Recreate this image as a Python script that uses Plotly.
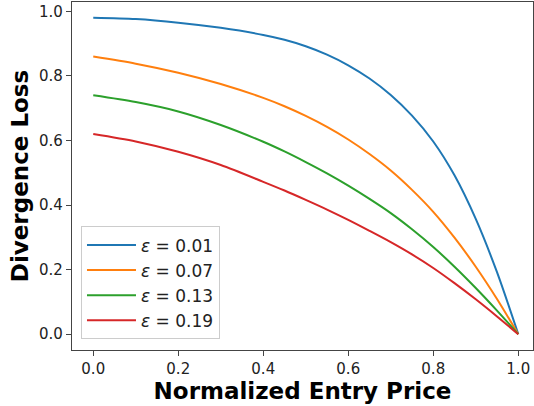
import plotly.graph_objects as go

x_vals = [0.0, 0.1, 0.2, 0.3, 0.4, 0.45, 0.5, 0.55, 0.6, 0.65, 0.7, 0.75, 0.8, 0.85, 0.9, 0.95, 1.0]

loss_eps_001 = [0.98, 0.976, 0.965, 0.949, 0.927, 0.912, 0.892, 0.866, 0.833, 0.792, 0.741, 0.677, 0.597, 0.492, 0.357, 0.192, 0.0]
loss_eps_007 = [0.86, 0.838, 0.810, 0.775, 0.732, 0.706, 0.676, 0.642, 0.603, 0.558, 0.507, 0.447, 0.379, 0.299, 0.209, 0.109, 0.0]
loss_eps_013 = [0.74, 0.719, 0.690, 0.648, 0.596, 0.566, 0.533, 0.498, 0.460, 0.419, 0.375, 0.325, 0.270, 0.209, 0.143, 0.073, 0.0]
loss_eps_019 = [0.62, 0.597, 0.565, 0.524, 0.472, 0.445, 0.416, 0.386, 0.354, 0.320, 0.285, 0.247, 0.205, 0.158, 0.108, 0.055, 0.0]

series_names = ["<i>ε</i> = 0.01", "<i>ε</i> = 0.07", "<i>ε</i> = 0.13", "<i>ε</i> = 0.19"]
series_values = [loss_eps_001, loss_eps_007, loss_eps_013, loss_eps_019]
colors = ["#1f77b4", "#ff7f0e", "#2ca02c", "#d62728"]

x_ticks = [0.0, 0.2, 0.4, 0.6, 0.8, 1.0]
y_ticks = [0.0, 0.2, 0.4, 0.6, 0.8, 1.0]

fig = go.Figure()
for name, vals, c in zip(series_names, series_values, colors):
    fig.add_trace(go.Scatter(x=x_vals, y=vals, mode="lines", name=name,
                             line=dict(color=c, width=2, shape="spline", smoothing=0.8)))

axis_common = dict(showgrid=False, zeroline=False, showline=True, mirror=True,
                   linecolor="#444444", linewidth=1.2, ticks="outside", ticklen=5,
                   tickwidth=1.1, tickcolor="#444444", automargin=False,
                   tickfont=dict(family="DejaVu Sans", size=15, color="#222222"))

fig.update_layout(
    width=534, height=406,
    margin=dict(l=72, r=1, t=2, b=56),
    paper_bgcolor="white", plot_bgcolor="white",
    font=dict(family="DejaVu Sans", color="black"),
    xaxis=dict(range=[-0.05, 1.0347], tickvals=x_ticks, ticktext=[f"{v:.1f}" for v in x_ticks],
               title=dict(text="Normalized Entry Price", standoff=5,
                          font=dict(family="DejaVu Sans", size=23, weight="bold")),
               **axis_common),
    yaxis=dict(range=[-0.049, 1.029], tickvals=y_ticks, ticktext=[f"{v:.1f}" for v in y_ticks],
               title=dict(text="Divergence Loss", standoff=3,
                          font=dict(family="DejaVu Sans", size=23, weight="bold")),
               **axis_common),
    legend=dict(x=0.0195, y=0.355, xanchor="left", yanchor="top",
                bgcolor="rgba(255,255,255,0.8)", bordercolor="#cccccc", borderwidth=1,
                font=dict(family="DejaVu Sans", size=17, color="#222222"),
                itemwidth=49, tracegroupgap=0),
    showlegend=True,
)

fig.write_html("out.html", config={"displayModeBar": False},
               post_script="document.body.style.margin='0';")
